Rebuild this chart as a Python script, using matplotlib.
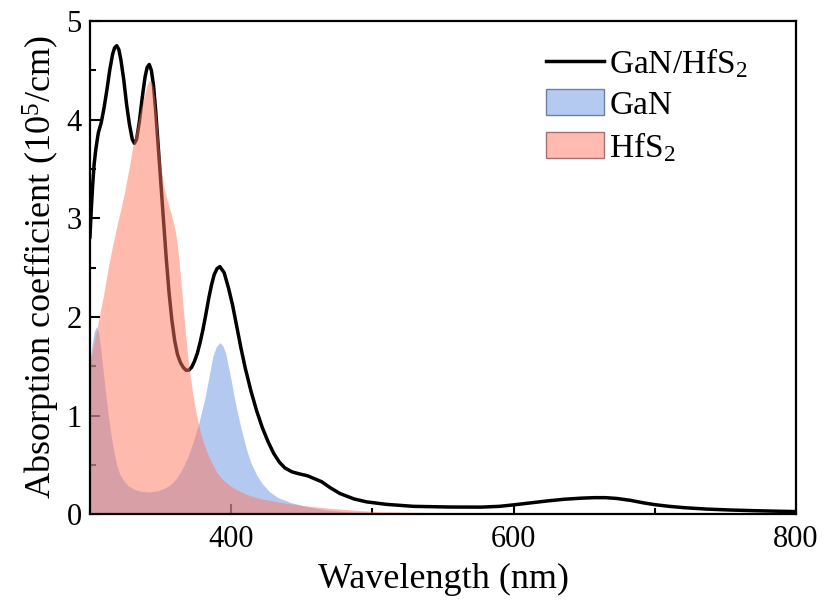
import matplotlib
matplotlib.use("Agg")
import matplotlib.pyplot as plt
from matplotlib.lines import Line2D
from matplotlib.patches import Patch
from matplotlib.ticker import MultipleLocator

plt.rcParams['font.family'] = ['Liberation Serif', 'DejaVu Serif']
plt.rcParams['mathtext.fontset'] = 'custom'
plt.rcParams['mathtext.rm'] = 'Liberation Serif'
plt.rcParams['mathtext.it'] = 'Liberation Serif:italic'

# GaN/HfS2 heterostructure (black line)
wl_het = [300, 301, 302, 303, 304, 305, 306, 308, 310, 312, 314, 316, 317.5, 319, 320.5,
          322, 324, 326, 328, 330, 331.5, 333, 335, 337, 339, 340.5, 342, 343.5, 345, 346.5,
          348, 350, 352, 354, 356, 358, 360, 362, 364, 366, 368, 370, 372, 374, 376,
          378, 380, 382, 384, 386, 388, 390, 392, 395, 398, 401, 404, 407, 410, 414,
          418, 422, 426, 430, 434, 438, 443, 448, 454, 459, 464, 470, 477, 487, 496,
          510, 529, 555, 577, 590, 600, 612, 624, 636, 648, 657, 665, 673, 683, 692,
          700, 710, 722, 737, 753, 770, 785, 800]
abs_het = [2.8, 3.1, 3.35, 3.55, 3.68, 3.78, 3.87, 3.97, 4.12, 4.3, 4.5, 4.66, 4.73, 4.75, 4.71,
           4.6, 4.4, 4.15, 3.95, 3.8, 3.76, 3.8, 3.98, 4.22, 4.43, 4.53, 4.56, 4.5, 4.35, 4.1,
           3.8, 3.4, 3.0, 2.6, 2.25, 1.97, 1.76, 1.62, 1.54, 1.49, 1.46, 1.46, 1.49, 1.55, 1.63,
           1.74, 1.87, 2.02, 2.18, 2.32, 2.43, 2.49, 2.51, 2.45, 2.3, 2.12, 1.9, 1.68, 1.48, 1.25,
           1.05, 0.88, 0.74, 0.62, 0.53, 0.47, 0.43, 0.41, 0.39, 0.36, 0.33, 0.27, 0.21, 0.155, 0.125,
           0.1, 0.08, 0.073, 0.072, 0.08, 0.095, 0.115, 0.135, 0.152, 0.163, 0.168, 0.168, 0.16, 0.14, 0.115,
           0.097, 0.08, 0.065, 0.052, 0.043, 0.036, 0.031, 0.027]

# GaN (blue fill)
wl_gan = [300, 301.5, 303, 304.5, 306, 307.5, 309, 311, 313, 315, 317, 319, 321, 324, 327,
          331, 336, 342, 348, 353, 357, 361, 365, 369, 373, 377, 381, 384, 387, 389.5,
          392, 394, 396, 398, 400, 402, 404, 406.5, 409, 411, 414, 418, 422, 427, 433,
          442, 450, 458, 470, 482, 500, 550, 600, 700, 800]
abs_gan = [1.55, 1.72, 1.85, 1.9, 1.85, 1.7, 1.5, 1.25, 1.0, 0.8, 0.63, 0.5, 0.41, 0.34, 0.29,
           0.255, 0.232, 0.225, 0.238, 0.265, 0.3, 0.36, 0.45, 0.57, 0.73, 0.92, 1.15, 1.37, 1.6, 1.7,
           1.74, 1.71, 1.64, 1.5, 1.36, 1.2, 1.06, 0.9, 0.76, 0.65, 0.52, 0.4, 0.31, 0.23, 0.17,
           0.12, 0.09, 0.065, 0.04, 0.025, 0.017, 0.01, 0.007, 0.005, 0.004]

# HfS2 (red fill)
wl_hfs = [300, 302, 304, 306, 308, 310, 312, 314, 316, 318, 320, 322, 324, 326, 328,
          330, 332, 334, 336, 338, 340, 341.5, 343, 344.5, 346, 347.5, 349, 350.5, 352, 354,
          356, 358, 360, 361.5, 363, 364.5, 366, 367.5, 369, 371, 373, 375, 377, 379, 381,
          384, 387, 390, 394, 399, 405, 411, 420, 435, 450, 470, 490, 506, 550, 600,
          700, 800]
abs_hfs = [1.52, 1.68, 1.82, 1.96, 2.1, 2.25, 2.42, 2.58, 2.72, 2.85, 2.98, 3.1, 3.23, 3.38, 3.53,
           3.7, 3.85, 3.98, 4.1, 4.22, 4.33, 4.39, 4.40, 4.34, 4.2, 3.98, 3.72, 3.5, 3.34, 3.22,
           3.12, 3.02, 2.9, 2.78, 2.58, 2.35, 2.1, 1.86, 1.64, 1.4, 1.2, 1.04, 0.9, 0.79, 0.7,
           0.59, 0.5, 0.42, 0.35, 0.29, 0.24, 0.2, 0.16, 0.12, 0.09, 0.06, 0.038, 0.025, 0.015, 0.01,
           0.006, 0.005]

labels = ['GaN/HfS$_2$', 'GaN', 'HfS$_2$']

blue = (105/255, 149/255, 225/255)
red = (1.0, 119/255, 95/255)

fig = plt.figure(figsize=(8.25, 6.1), dpi=100)
ax = fig.add_axes([0.109, 0.157, 0.856, 0.8085])

ax.plot(wl_het, abs_het, color='black', lw=2.5, zorder=2,
        solid_joinstyle='round', solid_capstyle='round')
ax.fill_between(wl_gan, abs_gan, 0, color=blue, alpha=0.5, lw=0, zorder=3)
ax.fill_between(wl_hfs, abs_hfs, 0, color=red, alpha=0.5, lw=0, zorder=4)

ax.set_xlim(300, 800)
ax.set_ylim(0, 5)
ax.xaxis.set_major_locator(MultipleLocator(200))
ax.xaxis.set_minor_locator(MultipleLocator(100))
ax.yaxis.set_major_locator(MultipleLocator(1))
ax.yaxis.set_minor_locator(MultipleLocator(0.5))
ax.tick_params(which='both', direction='in', top=False, right=False, labelsize=22, width=1.5)
ax.tick_params(which='major', length=7)
ax.tick_params(which='minor', length=4)
ax.tick_params(axis='x', pad=8)
ax.tick_params(axis='y', pad=6)
for s in ax.spines.values():
    s.set_linewidth(1.6)
    s.set_zorder(5)

ax.set_xlabel('Wavelength (nm)', fontsize=26, labelpad=6)
ax.set_ylabel('Absorption coefficient (10$^5$/cm)', fontsize=26, labelpad=3)

handles = [Line2D([0], [0], color='black', lw=2.5),
           Patch(facecolor=(180/255, 202/255, 240/255), edgecolor=(0.42, 0.5, 0.66), lw=1),
           Patch(facecolor=(1.0, 187/255, 175/255), edgecolor=(0.66, 0.44, 0.44), lw=1)]
ax.legend(handles, labels, loc='upper right', bbox_to_anchor=(0.96, 0.99), frameon=False,
          fontsize=24, handlelength=1.75, handleheight=0.82, handletextpad=0.15,
          labelspacing=0.28, borderaxespad=0.2)

fig.savefig('out.png', dpi=100)
